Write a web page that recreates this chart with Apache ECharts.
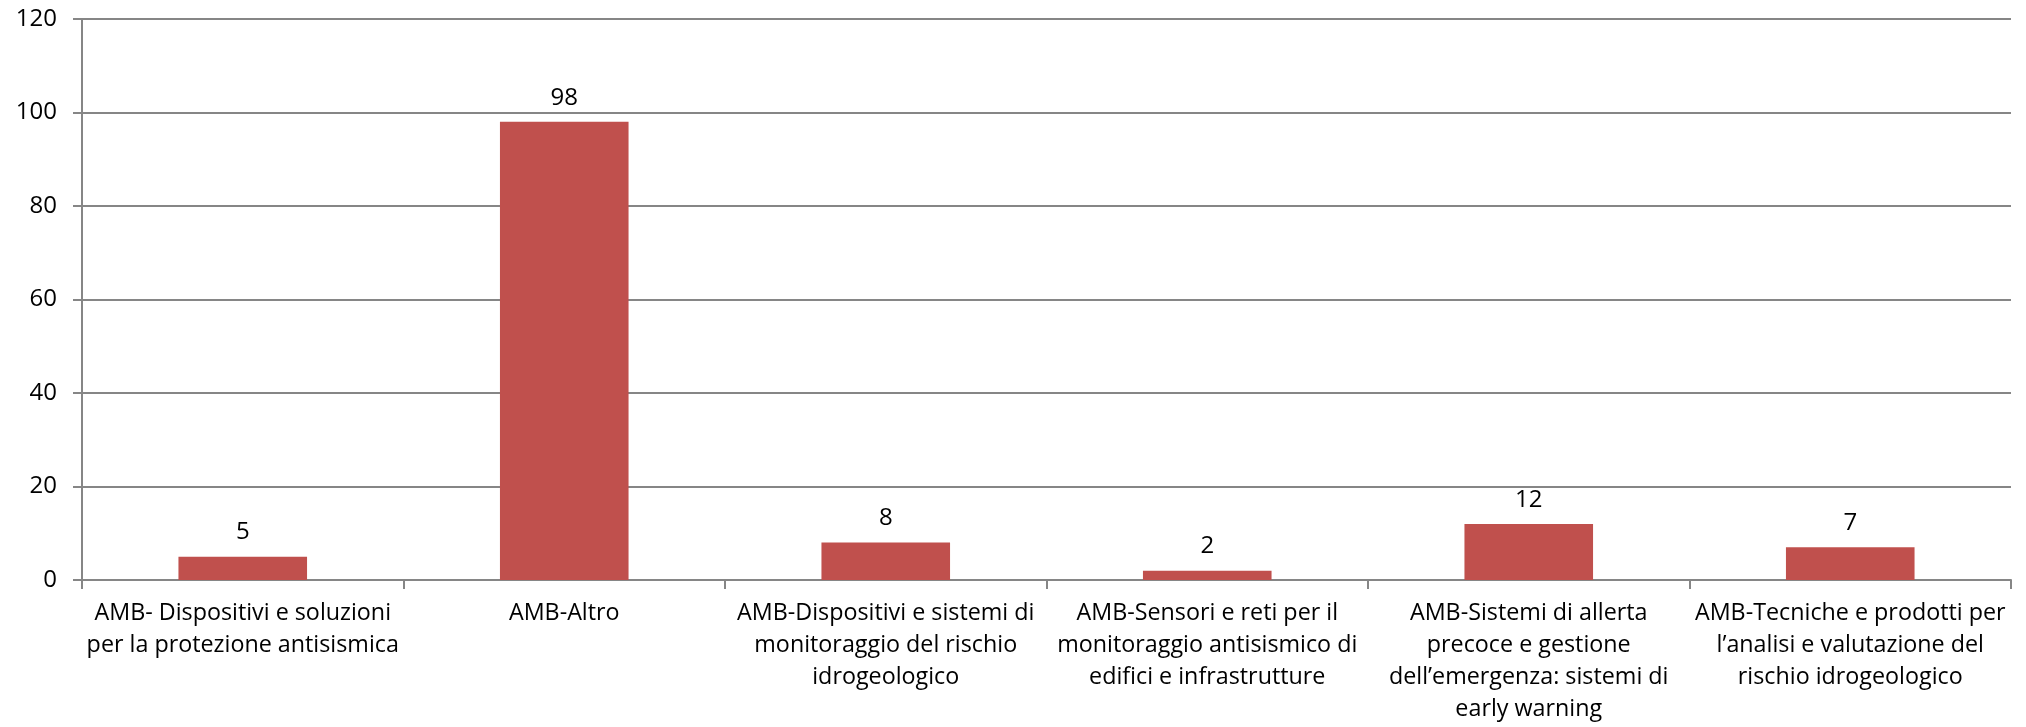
<!DOCTYPE html>
<html>
<head>
<meta charset="utf-8">
<script src="https://cdn.jsdelivr.net/npm/echarts@6/dist/echarts.min.js"></script>
<style>
html,body{margin:0;padding:0;background:#fff;}
#chart{width:2026px;height:727px;}
</style>
</head>
<body>
<div id="chart"></div>
<script>
const categories = [
  "AMB- Dispositivi e soluzioni\nper la protezione antisismica",
  "AMB-Altro",
  "AMB-Dispositivi e sistemi di\nmonitoraggio del rischio\nidrogeologico",
  "AMB-Sensori e reti per il\nmonitoraggio antisismico di\nedifici e infrastrutture",
  "AMB-Sistemi di allerta\nprecoce e gestione\ndell\u2019emergenza: sistemi di\nearly warning",
  "AMB-Tecniche e prodotti per\nl\u2019analisi e valutazione del\nrischio idrogeologico"
];
const values = [5, 98, 8, 2, 12, 7];
const yTicks = [0, 20, 40, 60, 80, 100, 120];

const FONT = "Open Sans";
const chart = echarts.init(document.getElementById('chart'), null, {renderer: 'canvas'});
chart.setOption({
  animation: false,
  backgroundColor: '#ffffff',
  grid: {left: 82, right: 15, top: 19, bottom: 147, containLabel: false},
  xAxis: {
    type: 'category',
    data: categories,
    axisLine: {show: true, lineStyle: {color: '#868686', width: 2}},
    axisTick: {show: true, length: 9, alignWithLabel: false, lineStyle: {color: '#868686', width: 2}},
    axisLabel: {
      interval: 0, margin: 17, color: '#000000',
      fontFamily: FONT, fontSize: 23.3, lineHeight: 32, align: 'center'
    }
  },
  yAxis: {
    type: 'value',
    min: yTicks[0], max: yTicks[yTicks.length - 1], interval: 20,
    axisLine: {show: true, lineStyle: {color: '#868686', width: 2}},
    axisTick: {show: true, length: 9, lineStyle: {color: '#868686', width: 2}},
    splitLine: {show: true, lineStyle: {color: '#868686', width: 2}},
    axisLabel: {margin: 25, color: '#000000', fontFamily: FONT, fontSize: 24}
  },
  series: [{
    type: 'bar',
    data: values,
    barWidth: '40%',
    itemStyle: {color: '#C0504D'},
    label: {
      show: true, position: 'top', distance: 12,
      color: '#000000', fontFamily: FONT, fontSize: 24
    }
  }]
});
</script>
</body>
</html>
